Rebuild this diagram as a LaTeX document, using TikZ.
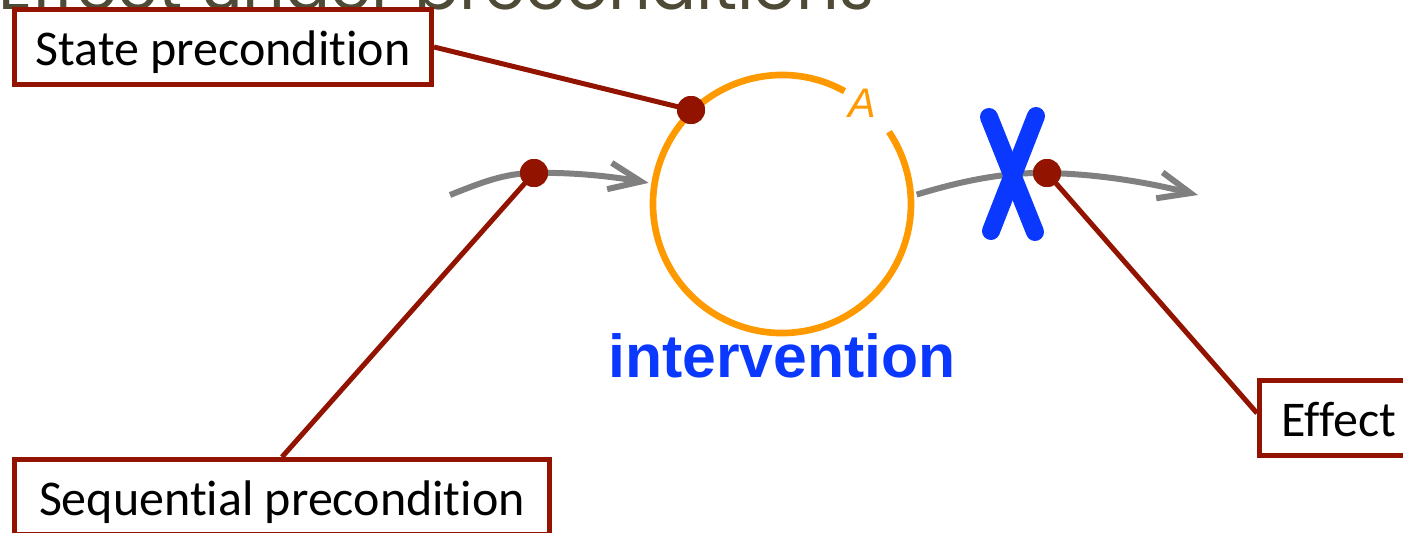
\documentclass[tikz,border=0pt]{standalone}
\usepackage{fontspec}
\setmainfont{Carlito}[Ligatures=NoCommon]
\newfontfamily\titlefont{Poppins}
\newfontfamily\labelfont{Liberation Sans}
\usetikzlibrary{arrows.meta,calc}
\definecolor{boxred}{RGB}{146,20,0}
\definecolor{flowgray}{RGB}{128,128,128}
\definecolor{ringorange}{RGB}{255,153,0}
\definecolor{actblue}{RGB}{10,56,255}
\definecolor{titleolive}{RGB}{78,74,54}
\begin{document}
\begin{tikzpicture}[x=0.75pt,y=-0.75pt,
  callout/.style={draw=boxred, line width=3.75pt, fill=white, inner sep=0pt,
    anchor=north west, minimum height=56.25pt,
    text height=30pt, text depth=3pt, font=\fontsize{37.5}{40}\selectfont},
  pin/.style={circle, fill=boxred, minimum size=21pt, inner sep=0pt, outer sep=0pt},
  leader/.style={draw=boxred, line width=3.75pt},
  flow/.style={draw=flowgray, line width=4.5pt,
    -{Straight Barb[length=24pt,width=20pt]}},
  cross/.style={draw=actblue, line width=13.5pt, line cap=round}]

\useasboundingbox (0,0) rectangle (1403,532);
\fill[white] (0,0) rectangle (1403,532);

% heading, partly hidden behind the first callout
\node[anchor=base west, inner sep=0pt, text=titleolive,
  font=\titlefont\fontsize{50}{58}\selectfont] (title) at (-2,9) {Effect under preconditions};

% intervention ring
\node[circle, minimum size=202.5pt, inner sep=0pt, outer sep=0pt] (ring) at (782,204) {};
\draw[ringorange, line width=5pt] (ring.center) ++(61:96.75pt) arc[start angle=61, end angle=394, radius=96.75pt];
\node[text=ringorange, inner sep=0pt, font=\labelfont\itshape\fontsize{31}{34}\selectfont] (alabel) at (862,103) {A};
\node[anchor=base, inner sep=0pt, text=actblue, font=\labelfont\bfseries\fontsize{45.5}{50}\selectfont] (intv) at (782,377) {intervention};

% pins on the flow
\coordinate (tail) at (450,195);
\coordinate (head) at (1198,195);
\node[pin] (pseq) at (534,173) {};
\node[pin] (pstate) at (691,110) {};
\node[pin] (peff) at (1047,173) {};

% callouts
\node[callout, minimum width=312.75pt] (state) at (12,7) {State precondition};
\node[callout, minimum width=401.25pt] (seq) at (12,457) {Sequential precondition};
\node[callout, minimum width=119.25pt] (effect) at (1257,378) {Effect};

% leader lines
\draw[leader] (state.east) -- (pstate.center);
\draw[leader] (seq.north) -- (pseq.center);
\draw[leader] ($(effect.north west)!0.44!(effect.south west)$) -- (peff.center);

% flow arrows
\draw[flow] (tail) .. controls (480,183) and (505,173) .. (pseq.center)
  .. controls (575,172) and (615,177) .. (ring.171);
\draw[flow] (ring.4) .. controls (955,183) and (1000,172) .. (peff.center)
  .. controls (1100,174) and (1150,183) .. (head);

% blocked mark
\coordinate (xa1) at (989,117);
\coordinate (xa2) at (1035,232);
\coordinate (xb1) at (1036,116);
\coordinate (xb2) at (991,231);
\draw[cross] (xa1) -- (xa2);
\draw[cross] (xb1) -- (xb2);

% pins drawn on top
\node[pin] at (pseq) {};
\node[pin] at (pstate) {};
\node[pin] at (peff) {};
\end{tikzpicture}
\end{document}
